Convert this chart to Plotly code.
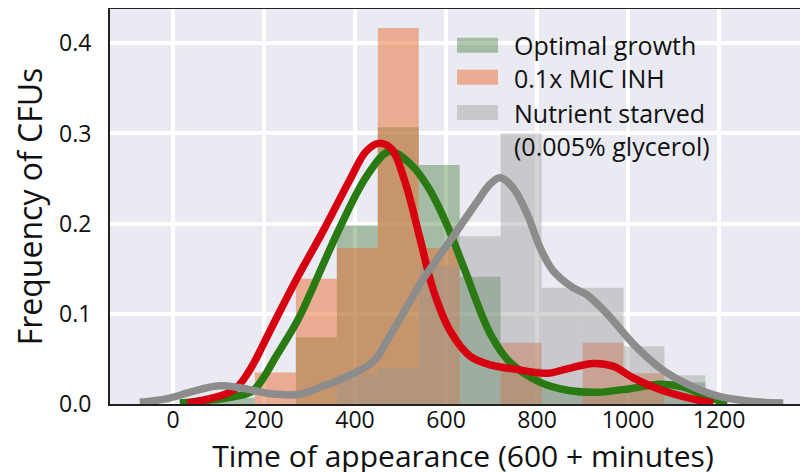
import plotly.graph_objects as go

# histogram bins (width 90, labelled by centre)
bin_centers = [135, 225, 315, 405, 495, 585, 675, 765, 855, 945, 1035, 1125]
bin_width = 90

optimal_hist = [0.007, 0.0, 0.074, 0.198, 0.307, 0.265, 0.141, 0.040, 0.018, 0.015, 0.020, 0.024]
inh_hist = [0.0, 0.035, 0.139, 0.173, 0.417, 0.173, 0.0, 0.068, 0.0, 0.068, 0.034, 0.0]
starved_hist = [0.0, 0.0, 0.0, 0.033, 0.040, 0.153, 0.186, 0.300, 0.129, 0.129, 0.064, 0.032]

# density curves
optimal_kde_x = [15, 132, 176, 229, 273, 294, 367, 426, 475, 520, 560, 600, 640, 697,
                 741, 807, 870, 930, 1004, 1070, 1121, 1174, 1218]
optimal_kde_y = [0.001, 0.008, 0.015, 0.055, 0.092, 0.114, 0.196, 0.253, 0.280, 0.267, 0.241,
                 0.201, 0.150, 0.078, 0.046, 0.024, 0.015, 0.013, 0.017, 0.022, 0.019, 0.008, 0.001]

inh_kde_x = [31, 132, 169, 213, 273, 330, 389, 424, 452, 480, 510, 543, 571, 609, 653, 700,
             747, 822, 866, 923, 967, 1011, 1070, 1130, 1187]
inh_kde_y = [0.001, 0.015, 0.038, 0.081, 0.140, 0.192, 0.249, 0.280, 0.289, 0.283, 0.246, 0.183,
             0.128, 0.081, 0.053, 0.043, 0.039, 0.034, 0.039, 0.045, 0.042, 0.029, 0.016, 0.007, 0.001]

starved_kde_x = [-73, -13, 44, 97, 147, 220, 279, 330, 367, 440, 477, 521, 549, 609, 668, 697,
                 719, 747, 778, 807, 835, 879, 910, 954, 1011, 1070, 1130, 1196, 1268, 1341]
starved_kde_y = [0.002, 0.006, 0.014, 0.020, 0.018, 0.011, 0.011, 0.020, 0.027, 0.047, 0.076, 0.114,
                 0.138, 0.181, 0.224, 0.244, 0.251, 0.240, 0.211, 0.173, 0.148, 0.129, 0.121, 0.100,
                 0.067, 0.040, 0.022, 0.009, 0.003, 0.001]

x_ticks = [0, 200, 400, 600, 800, 1000, 1200]
y_ticks = [0.0, 0.1, 0.2, 0.3, 0.4]

legend_labels = ["Optimal growth", "0.1x MIC INH", "Nutrient starved<br>(0.005% glycerol)"]
bar_colors = ["rgba(60,120,50,0.4)", "rgba(232,110,50,0.5)", "rgba(150,150,150,0.4)"]
line_colors = ["#2a7a14", "#d60010", "#8c8c8c"]

FONT = "Open Sans"

fig = go.Figure()

hists = [optimal_hist, inh_hist, starved_hist]
for vals, col in zip(hists, bar_colors):
    fig.add_trace(go.Bar(x=bin_centers, y=vals, width=bin_width, marker_color=col,
                         marker_line_width=0, showlegend=False))

kdes = [(optimal_kde_x, optimal_kde_y), (inh_kde_x, inh_kde_y), (starved_kde_x, starved_kde_y)]
for (kx, ky), col in zip(kdes, line_colors):
    fig.add_trace(go.Scatter(x=kx, y=ky, mode="lines",
                             line=dict(color=col, width=7.5, shape="spline", smoothing=1.0),
                             showlegend=False))

# hand made legend with wide patches
swatch_tops = [0.927, 0.846, 0.757]
text_y = [0.909, 0.825, 0.696]
for i in range(3):
    fig.add_shape(type="rect", xref="paper", yref="paper", x0=0.4915, x1=0.5496,
                  y0=swatch_tops[i] - 0.038, y1=swatch_tops[i],
                  fillcolor=bar_colors[i], line_width=0, layer="above")
    fig.add_annotation(xref="paper", yref="paper", x=0.5694, y=text_y[i], text=legend_labels[i],
                       showarrow=False, xanchor="left", yanchor="middle", align="left",
                       font=dict(family=FONT, size=25, color="#111"))

# the page body adds 8px on top and left, so margins are pulled back by that much
fig.update_layout(
    width=808, height=472,
    margin=dict(l=102, r=0, t=1, b=76),
    paper_bgcolor="white",
    plot_bgcolor="#EAEAF2",
    barmode="overlay",
    font=dict(family=FONT, color="#111"),
    showlegend=False,
)
fig.update_xaxes(range=[-138.5, 1413], tickvals=x_ticks, ticktext=[str(v) for v in x_ticks],
                 automargin=False,
                 showgrid=True, gridcolor="white", gridwidth=4, zeroline=False,
                 showline=True, linecolor="#222", linewidth=2, mirror=True,
                 tickfont=dict(size=23, family=FONT), ticks="", ticklabelstandoff=-6,
                 title=dict(text="Time of appearance (600 + minutes)", font=dict(size=30, family=FONT),
                            standoff=0))
fig.update_yaxes(range=[0, 0.438], tickvals=y_ticks, ticktext=["%.1f" % v for v in y_ticks],
                 automargin=False,
                 showgrid=True, gridcolor="white", gridwidth=4, zeroline=False,
                 showline=True, linecolor="#222", linewidth=2,
                 tickfont=dict(size=23, family=FONT), ticks="", ticklabelstandoff=12,
                 title=dict(text="Frequency of CFUs", font=dict(size=32, family=FONT), standoff=20))

fig.write_html("out.html")
